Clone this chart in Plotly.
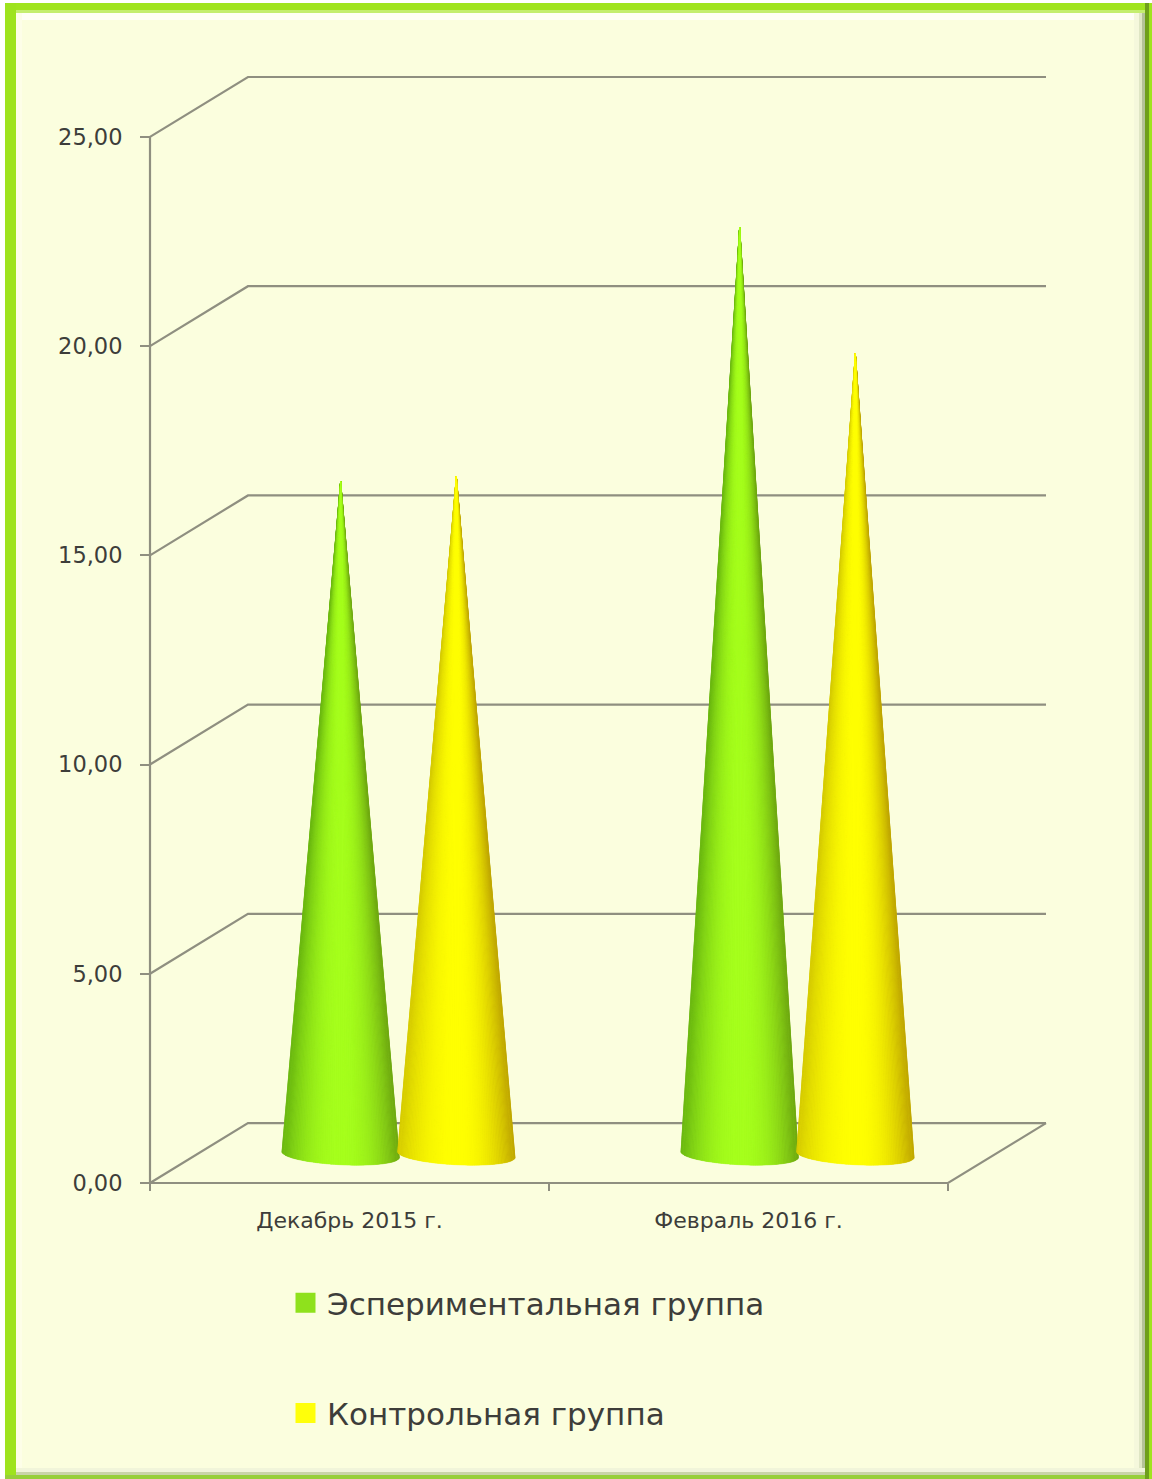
import math
import plotly.graph_objects as go

W, H = 1152, 1479

# Chart data
categories = ["Декабрь 2015 г.", "Февраль 2016 г."]
series_names = ["Эспериментальная группа", "Контрольная группа"]
experimental = [16.05, 22.13]
control = [16.17, 19.10]
y_ticks = [0, 5, 10, 15, 20, 25]

# Oblique projection of the 3D box, in axis units
DEPTH_X = 0.2455
DEPTH_Y = 1.431
CONE_DEPTH = 0.5
CONE_OFFSET = 0.145
CONE_RADIUS = 0.147
ELLIPSE_RY = 0.24
ELLIPSE_TILT = 0.07
BASE_DROP = 0.04
WEDGES = 80

# Plot area edges in pixels, and a small pad so box lines are not cut by the clip path
LEFT, RIGHT, BOTTOM, TOP = 150, 1046, 1183, 77
PAD = 4
UNIT_X = (RIGHT - LEFT) / (2 + DEPTH_X)
UNIT_Y = (BOTTOM - TOP) / (25 + DEPTH_Y)

GRID = "#8f8f80"
TEXT = "#3d3d3a"


def project(x, y, depth):
    return x + depth * DEPTH_X, y + depth * DEPTH_Y


def mix(a, b, t):
    return "rgb(%d,%d,%d)" % tuple(round(p + (q - p) * t) for p, q in zip(a, b))


def shade(s, left, mid, right):
    # s runs from -1 (left silhouette) to 1 (right silhouette)
    if s < 0:
        return mix(mid, left, min(1, (-s / 0.97) ** 2.2))
    return mix(mid, right, min(1, (s / 0.97) ** 2.2))


fig = go.Figure()


def add_line(points, width=2.2):
    xs, ys = zip(*points)
    fig.add_trace(go.Scatter(x=xs, y=ys, mode="lines", line=dict(color=GRID, width=width),
                             showlegend=False, hoverinfo="skip"))


# Back wall and floor-to-wall guides
for v in y_ticks:
    add_line([project(0, v, 0), project(0, v, 1), project(2, v, 1)])
add_line([project(0, 0, 0), project(2, 0, 0), project(2, 0, 1)])
add_line([(0, 0), (0, 25)])


def add_cone(centre, value, left, mid, right):
    base_x, base_y = project(centre, -BASE_DROP, CONE_DEPTH)
    tip_x, tip_y = project(centre, value, CONE_DEPTH)
    # A silhouette underneath hides the seams between the shaded wedges
    angles = [-math.pi / 2 + math.pi * i / WEDGES for i in range(WEDGES + 1)]
    rim = [(base_x + CONE_RADIUS * math.sin(a),
            base_y - ELLIPSE_RY * math.cos(a) - ELLIPSE_TILT * math.sin(a)) for a in angles]
    fig.add_trace(go.Scatter(x=[tip_x] + [p[0] for p in rim] + [tip_x],
                             y=[tip_y] + [p[1] for p in rim] + [tip_y],
                             mode="lines", fill="toself", fillcolor=mix(mid, left, 0.3),
                             line=dict(width=0), showlegend=False, hoverinfo="skip"))
    # Outer wedges first, so that the bright centre finishes the tip
    order = sorted(range(WEDGES), key=lambda i: -abs(angles[i] + angles[i + 1]))
    for i in order:
        p, q = rim[i], rim[i + 1]
        colour = shade(math.sin((angles[i] + angles[i + 1]) / 2), left, mid, right)
        fig.add_trace(go.Scatter(x=[tip_x, p[0], q[0], tip_x], y=[tip_y, p[1], q[1], tip_y],
                                 mode="lines", fill="toself", fillcolor=colour,
                                 line=dict(color=colour, width=0.5),
                                 showlegend=False, hoverinfo="skip"))


GREEN = ((108, 184, 18), (166, 255, 28), (112, 170, 18))
YELLOW = ((214, 204, 0), (255, 255, 0), (192, 168, 0))

for i in range(len(categories)):
    add_cone(i + 0.5 - CONE_OFFSET, experimental[i], *GREEN)
    add_cone(i + 0.5 + CONE_OFFSET, control[i], *YELLOW)

# Legend entries
for name, colour, group in zip(series_names, ["#8fe11c", "#ffff0a"], ["a", "b"]):
    fig.add_trace(go.Scatter(x=[None], y=[None], mode="markers", name=name, legendgroup=group,
                             marker=dict(symbol="square", size=16, color=colour,
                                         line=dict(color=colour, width=4))))


def frame(x0, y0, x1, y1, colour):
    return dict(type="rect", xref="paper", yref="paper", layer="below",
                x0=x0 / W, x1=x1 / W, y0=1 - y0 / H, y1=1 - y1 / H,
                fillcolor=colour, line=dict(width=0))


shapes = [
    # Outer white edge
    frame(0, 0, W, 3, "#ffffff"), frame(0, 0, 5, H, "#ffffff"),
    # Inner highlight along the top and left
    frame(16, 10, 1145, 20, "#fffff4"), frame(16, 10, 22, 1470, "#fdfee8"),
    # Shadow along the right and bottom
    frame(1134, 10, 1139, 1473, "#f5f8dc"), frame(1139, 10, 1142, 1473, "#dfe6c4"),
    frame(1142, 10, 1145, 1473, "#b4c298"),
    frame(16, 1468, 1145, 1472, "#f1f5da"), frame(16, 1472, 1145, 1475, "#c9d4a8"),
    # Green band
    frame(5, 3, W, 10, "#a0e41e"), frame(16, 10, 1145, 13, "#c4ee6e"),
    frame(5, 3, 16, H, "#9ee31e"),
    frame(5, 1475, W, H, "#97cf3a"),
    frame(1145, 3, 1149, H, "#6f9f1b"), frame(1149, 3, W, H, "#a0e41e"),
]

fig.update_layout(
    width=W, height=H,
    margin=dict(l=0, r=0, t=0, b=0, autoexpand=False),
    paper_bgcolor="#fbfede",
    plot_bgcolor="rgba(0,0,0,0)",
    separators=", ",
    shapes=shapes,
    font=dict(family="DejaVu Sans", color=TEXT),
    xaxis=dict(
        domain=[(LEFT - PAD) / W, (RIGHT + PAD) / W],
        range=[-PAD / UNIT_X, 2 + DEPTH_X + PAD / UNIT_X],
        anchor="free", position=(H - BOTTOM) / H,
        showgrid=False, zeroline=False,
        showline=False, automargin=False, tickmode="array", tickvals=[0.5, 1.5],
        ticktext=categories, ticks="", tickfont=dict(size=22, color=TEXT),
        ticklabelstandoff=22,
        minor=dict(tickmode="array", tickvals=[0, 1, 2], ticks="outside", ticklen=7,
                   tickcolor=GRID, tickwidth=2, showgrid=False),
    ),
    yaxis=dict(
        domain=[(H - BOTTOM - PAD) / H, (H - TOP + PAD) / H],
        range=[-PAD / UNIT_Y, 25 + DEPTH_Y + PAD / UNIT_Y],
        anchor="free", position=LEFT / W,
        showgrid=False,
        zeroline=False, showline=False, automargin=False, tickmode="array", tickvals=y_ticks,
        tickformat=".2f", ticks="outside", ticklen=10, tickcolor=GRID, tickwidth=2,
        tickfont=dict(size=22.5, color=TEXT), ticklabelstandoff=13,
    ),
    legend=dict(
        x=284 / W, y=1 - 1276 / H, xanchor="left", yanchor="top", bgcolor="rgba(0,0,0,0)",
        font=dict(size=31, color=TEXT), itemsizing="trace", tracegroupgap=67, itemwidth=33,
        traceorder="grouped", itemclick=False, itemdoubleclick=False,
    ),
    showlegend=True,
)

fig.write_html("out.html", config=dict(displayModeBar=False))
